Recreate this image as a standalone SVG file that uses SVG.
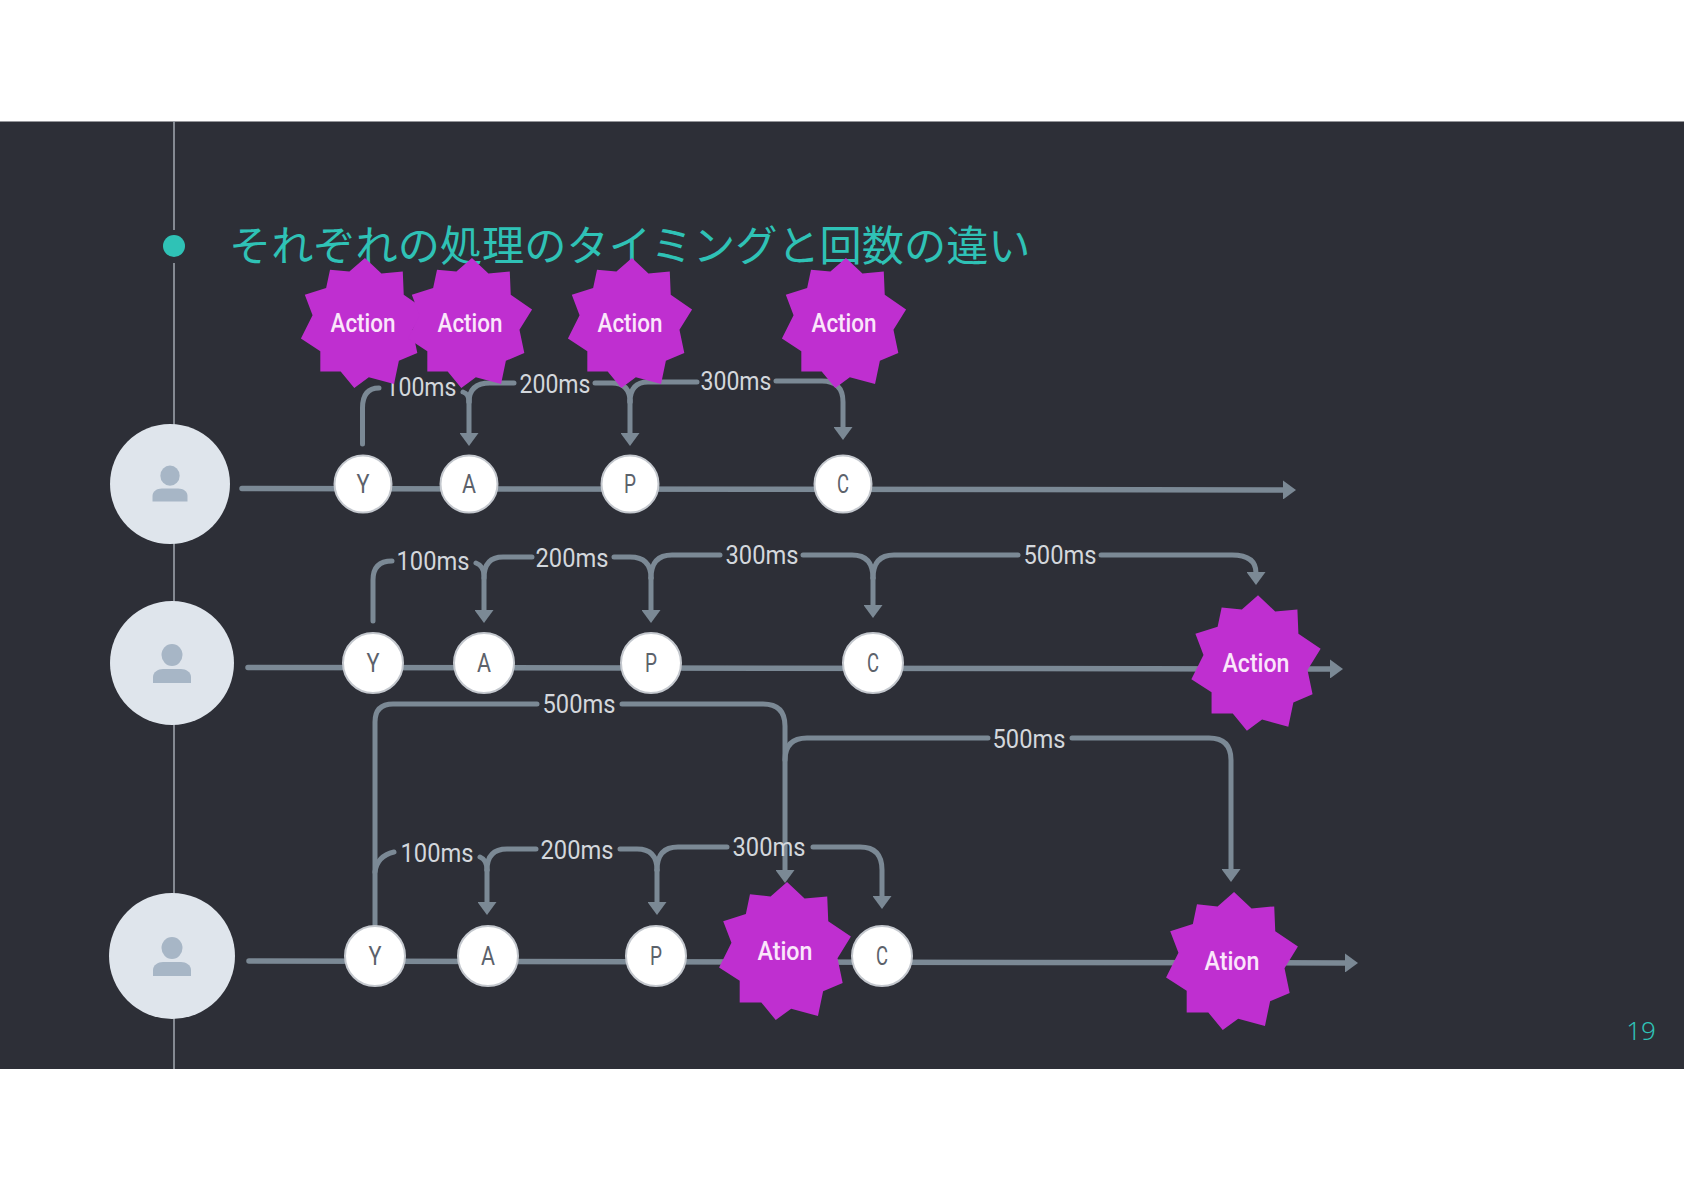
<svg xmlns="http://www.w3.org/2000/svg" width="1684" height="1191" viewBox="0 0 1684 1191">
<style>
.bg{fill:#2d2f37}
.rail{stroke:#9ba1a9;stroke-width:1.6;fill:none}
.dot{fill:#2fc2b6}
.title{font-family:"Noto Sans CJK JP","Noto Sans",sans-serif;font-size:42.200px;font-weight:400;fill:#2fc2b6}
.num{font-family:"Noto Sans","Liberation Sans",sans-serif;font-size:26px;font-weight:300;fill:#2fc2b6}
.line{stroke:#7b8995;stroke-width:5.500;fill:none;stroke-linecap:round}
.conn{stroke:#7b8995;stroke-width:5;fill:none;stroke-linecap:round}
.arrow{marker-end:url(#head)}
.lbl{font-family:Roboto,"Liberation Sans",sans-serif;font-size:25.500px;fill:#d3d7dc;text-anchor:middle}
.avatar{fill:#dfe5ec}
.person{fill:#a7b6c6}
.circ{fill:#fff;stroke:#c4c8ce;stroke-width:2}
.ltr{font-family:Roboto,"Liberation Sans",sans-serif;font-size:25px;fill:#5c626b;text-anchor:middle}
.star{fill:#bf2fd0}
.act{font-family:Roboto,"Liberation Sans",sans-serif;font-size:25.500px;font-weight:500;fill:#fbe6fb;text-anchor:middle}
</style>
<defs>
<marker id="head" markerUnits="userSpaceOnUse" markerWidth="19" markerHeight="19" refX="1" refY="9.500" orient="auto"><path d="M0 0L13 9.500L0 19Z" fill="#7b8995"/></marker>
<polygon id="burst" points="2,-67 19,-51 41,-53 42,-29 64,-14 51,7 56,31 37,39 32,63 6,56 -9,67 -23,50 -44,50 -44,29 -64,16 -52,-8 -60,-29 -38,-36 -34,-55 -14,-53"/>
<g id="man"><ellipse cx="0" cy="-8" rx="10.500" ry="11"/><path d="M-19 20V14C-19 9-14 6-9 6H9C14 6 19 9 19 14V20Z"/></g>
</defs>
<rect class="bg" x="0" y="121.500" width="1684" height="947.500"/>
<g id="rail">
<path class="rail" d="M174 121V230M174 263V1069"/>
<circle class="dot" cx="174" cy="246" r="11"/>
</g>
<text id="title" class="title" x="229" y="261">それぞれの処理のタイミングと回数の違い</text>
<text id="page" class="num" x="1641" y="1040" text-anchor="middle">19</text>
<g id="connectors">
<path class="line arrow" d="M242 488.500L1284 490"/>
<path class="line arrow" d="M248 667.500L1331 669"/>
<path class="line arrow" d="M249 961L1346 963"/>
<path class="conn" d="M362.500 444V408Q362.500 388 379 388"/>
<path class="conn arrow" d="M469 397V434"/>
<path class="conn" d="M463 392Q469 394 469 402"/>
<path class="conn" d="M514 383H490Q469 383 469 402"/>
<path class="conn arrow" d="M630 400V434"/>
<path class="conn" d="M595 383H612Q630 383 630 402"/>
<path class="conn" d="M697 382H648Q630 382 630 402"/>
<path class="conn arrow" d="M776 381H822Q843 381 843 402V428"/>
<path class="conn" d="M373 621V580Q373 561 392 561"/>
<path class="conn arrow" d="M484 578V611"/>
<path class="conn" d="M476 563Q484 566 484 576"/>
<path class="conn" d="M532 557H503Q484 557 484 578"/>
<path class="conn arrow" d="M651 578V611"/>
<path class="conn" d="M614 557H630Q651 557 651 578"/>
<path class="conn" d="M720 555H672Q651 555 651 578"/>
<path class="conn arrow" d="M873 578V606"/>
<path class="conn" d="M803 555H852Q873 555 873 578"/>
<path class="conn" d="M1018 555H894Q873 555 873 578"/>
<path class="conn arrow" d="M1101 555H1232Q1256 555 1256 573"/>
<path class="conn" d="M375 925V722Q375 704 393 704H537"/>
<path class="conn arrow" d="M622 704H763Q785 704 785 726V871"/>
<path class="conn" d="M988 738H807Q785 738 785 760"/>
<path class="conn arrow" d="M1072 738H1209Q1231 738 1231 760V870"/>
<path class="conn" d="M375 872Q377 856 394 852"/>
<path class="conn arrow" d="M487 870V903"/>
<path class="conn" d="M480 857Q487 860 487 870"/>
<path class="conn" d="M536 849H507Q487 849 487 870"/>
<path class="conn arrow" d="M657 870V903"/>
<path class="conn" d="M620 849H637Q657 849 657 870"/>
<path class="conn" d="M727 847H678Q657 847 657 870"/>
<path class="conn arrow" d="M813 847H860Q882 847 882 870V897"/>
</g>
<g id="labels">
<text class="lbl" x="421" y="396" textLength="71" lengthAdjust="spacingAndGlyphs">100ms</text>
<text class="lbl" x="555" y="393" textLength="71" lengthAdjust="spacingAndGlyphs">200ms</text>
<text class="lbl" x="736" y="390" textLength="71" lengthAdjust="spacingAndGlyphs">300ms</text>
<text class="lbl" x="433" y="570" textLength="73" lengthAdjust="spacingAndGlyphs">100ms</text>
<text class="lbl" x="572" y="567" textLength="73" lengthAdjust="spacingAndGlyphs">200ms</text>
<text class="lbl" x="762" y="564" textLength="73" lengthAdjust="spacingAndGlyphs">300ms</text>
<text class="lbl" x="1060" y="564" textLength="73" lengthAdjust="spacingAndGlyphs">500ms</text>
<text class="lbl" x="579" y="713" textLength="73" lengthAdjust="spacingAndGlyphs">500ms</text>
<text class="lbl" x="1029" y="748" textLength="73" lengthAdjust="spacingAndGlyphs">500ms</text>
<text class="lbl" x="437" y="862" textLength="73" lengthAdjust="spacingAndGlyphs">100ms</text>
<text class="lbl" x="577" y="859" textLength="73" lengthAdjust="spacingAndGlyphs">200ms</text>
<text class="lbl" x="769" y="856" textLength="73" lengthAdjust="spacingAndGlyphs">300ms</text>
</g>
<g id="user1"><circle class="avatar" cx="170" cy="484" r="60"/><use href="#man" class="person" transform="translate(170 483) scale(.92)"/></g>
<g id="user2"><circle class="avatar" cx="172" cy="663" r="62"/><use href="#man" class="person" transform="translate(172 663)"/></g>
<g id="user3"><circle class="avatar" cx="172" cy="956" r="63"/><use href="#man" class="person" transform="translate(172 956)"/></g>
<g id="n1Y"><circle class="circ" cx="363" cy="484" r="28.500"/><text class="ltr" x="363" y="493" textLength="13" lengthAdjust="spacingAndGlyphs">Y</text></g>
<g id="n1A"><circle class="circ" cx="469" cy="484" r="28.500"/><text class="ltr" x="469" y="493" textLength="14" lengthAdjust="spacingAndGlyphs">A</text></g>
<g id="n1P"><circle class="circ" cx="630" cy="484" r="28.500"/><text class="ltr" x="630" y="493" textLength="12" lengthAdjust="spacingAndGlyphs">P</text></g>
<g id="n1C"><circle class="circ" cx="843" cy="484" r="28.500"/><text class="ltr" x="843" y="493" textLength="12" lengthAdjust="spacingAndGlyphs">C</text></g>
<g id="n2Y"><circle class="circ" cx="373" cy="663" r="30"/><text class="ltr" x="373" y="672" textLength="13" lengthAdjust="spacingAndGlyphs">Y</text></g>
<g id="n2A"><circle class="circ" cx="484" cy="663" r="30"/><text class="ltr" x="484" y="672" textLength="14" lengthAdjust="spacingAndGlyphs">A</text></g>
<g id="n2P"><circle class="circ" cx="651" cy="663" r="30"/><text class="ltr" x="651" y="672" textLength="12" lengthAdjust="spacingAndGlyphs">P</text></g>
<g id="n2C"><circle class="circ" cx="873" cy="663" r="30"/><text class="ltr" x="873" y="672" textLength="12" lengthAdjust="spacingAndGlyphs">C</text></g>
<g id="n3Y"><circle class="circ" cx="375" cy="956" r="30"/><text class="ltr" x="375" y="965" textLength="13" lengthAdjust="spacingAndGlyphs">Y</text></g>
<g id="n3A"><circle class="circ" cx="488" cy="956" r="30"/><text class="ltr" x="488" y="965" textLength="14" lengthAdjust="spacingAndGlyphs">A</text></g>
<g id="n3P"><circle class="circ" cx="656" cy="956" r="30"/><text class="ltr" x="656" y="965" textLength="12" lengthAdjust="spacingAndGlyphs">P</text></g>
<g id="n3C"><circle class="circ" cx="882" cy="956" r="30"/><text class="ltr" x="882" y="965" textLength="12" lengthAdjust="spacingAndGlyphs">C</text></g>
<g id="s1"><use href="#burst" class="star" transform="translate(363 323) scale(.97)"/><text class="act" x="363" y="332" textLength="65" lengthAdjust="spacingAndGlyphs">Action</text></g>
<g id="s2"><use href="#burst" class="star" transform="translate(470 323) scale(.97)"/><text class="act" x="470" y="332" textLength="65" lengthAdjust="spacingAndGlyphs">Action</text></g>
<g id="s3"><use href="#burst" class="star" transform="translate(630 323) scale(.97)"/><text class="act" x="630" y="332" textLength="65" lengthAdjust="spacingAndGlyphs">Action</text></g>
<g id="s4"><use href="#burst" class="star" transform="translate(844 323) scale(.97)"/><text class="act" x="844" y="332" textLength="65" lengthAdjust="spacingAndGlyphs">Action</text></g>
<g id="s5"><use href="#burst" class="star" transform="translate(1256 663) scale(1.01)"/><text class="act" x="1256" y="672" textLength="67" lengthAdjust="spacingAndGlyphs">Action</text></g>
<g id="s6"><use href="#burst" class="star" transform="translate(785 951) scale(1.03)"/><text class="act" x="785" y="960" textLength="55" lengthAdjust="spacingAndGlyphs">Ation</text></g>
<g id="s7"><use href="#burst" class="star" transform="translate(1232 961) scale(1.03)"/><text class="act" x="1232" y="970" textLength="55" lengthAdjust="spacingAndGlyphs">Ation</text></g>
</svg>
